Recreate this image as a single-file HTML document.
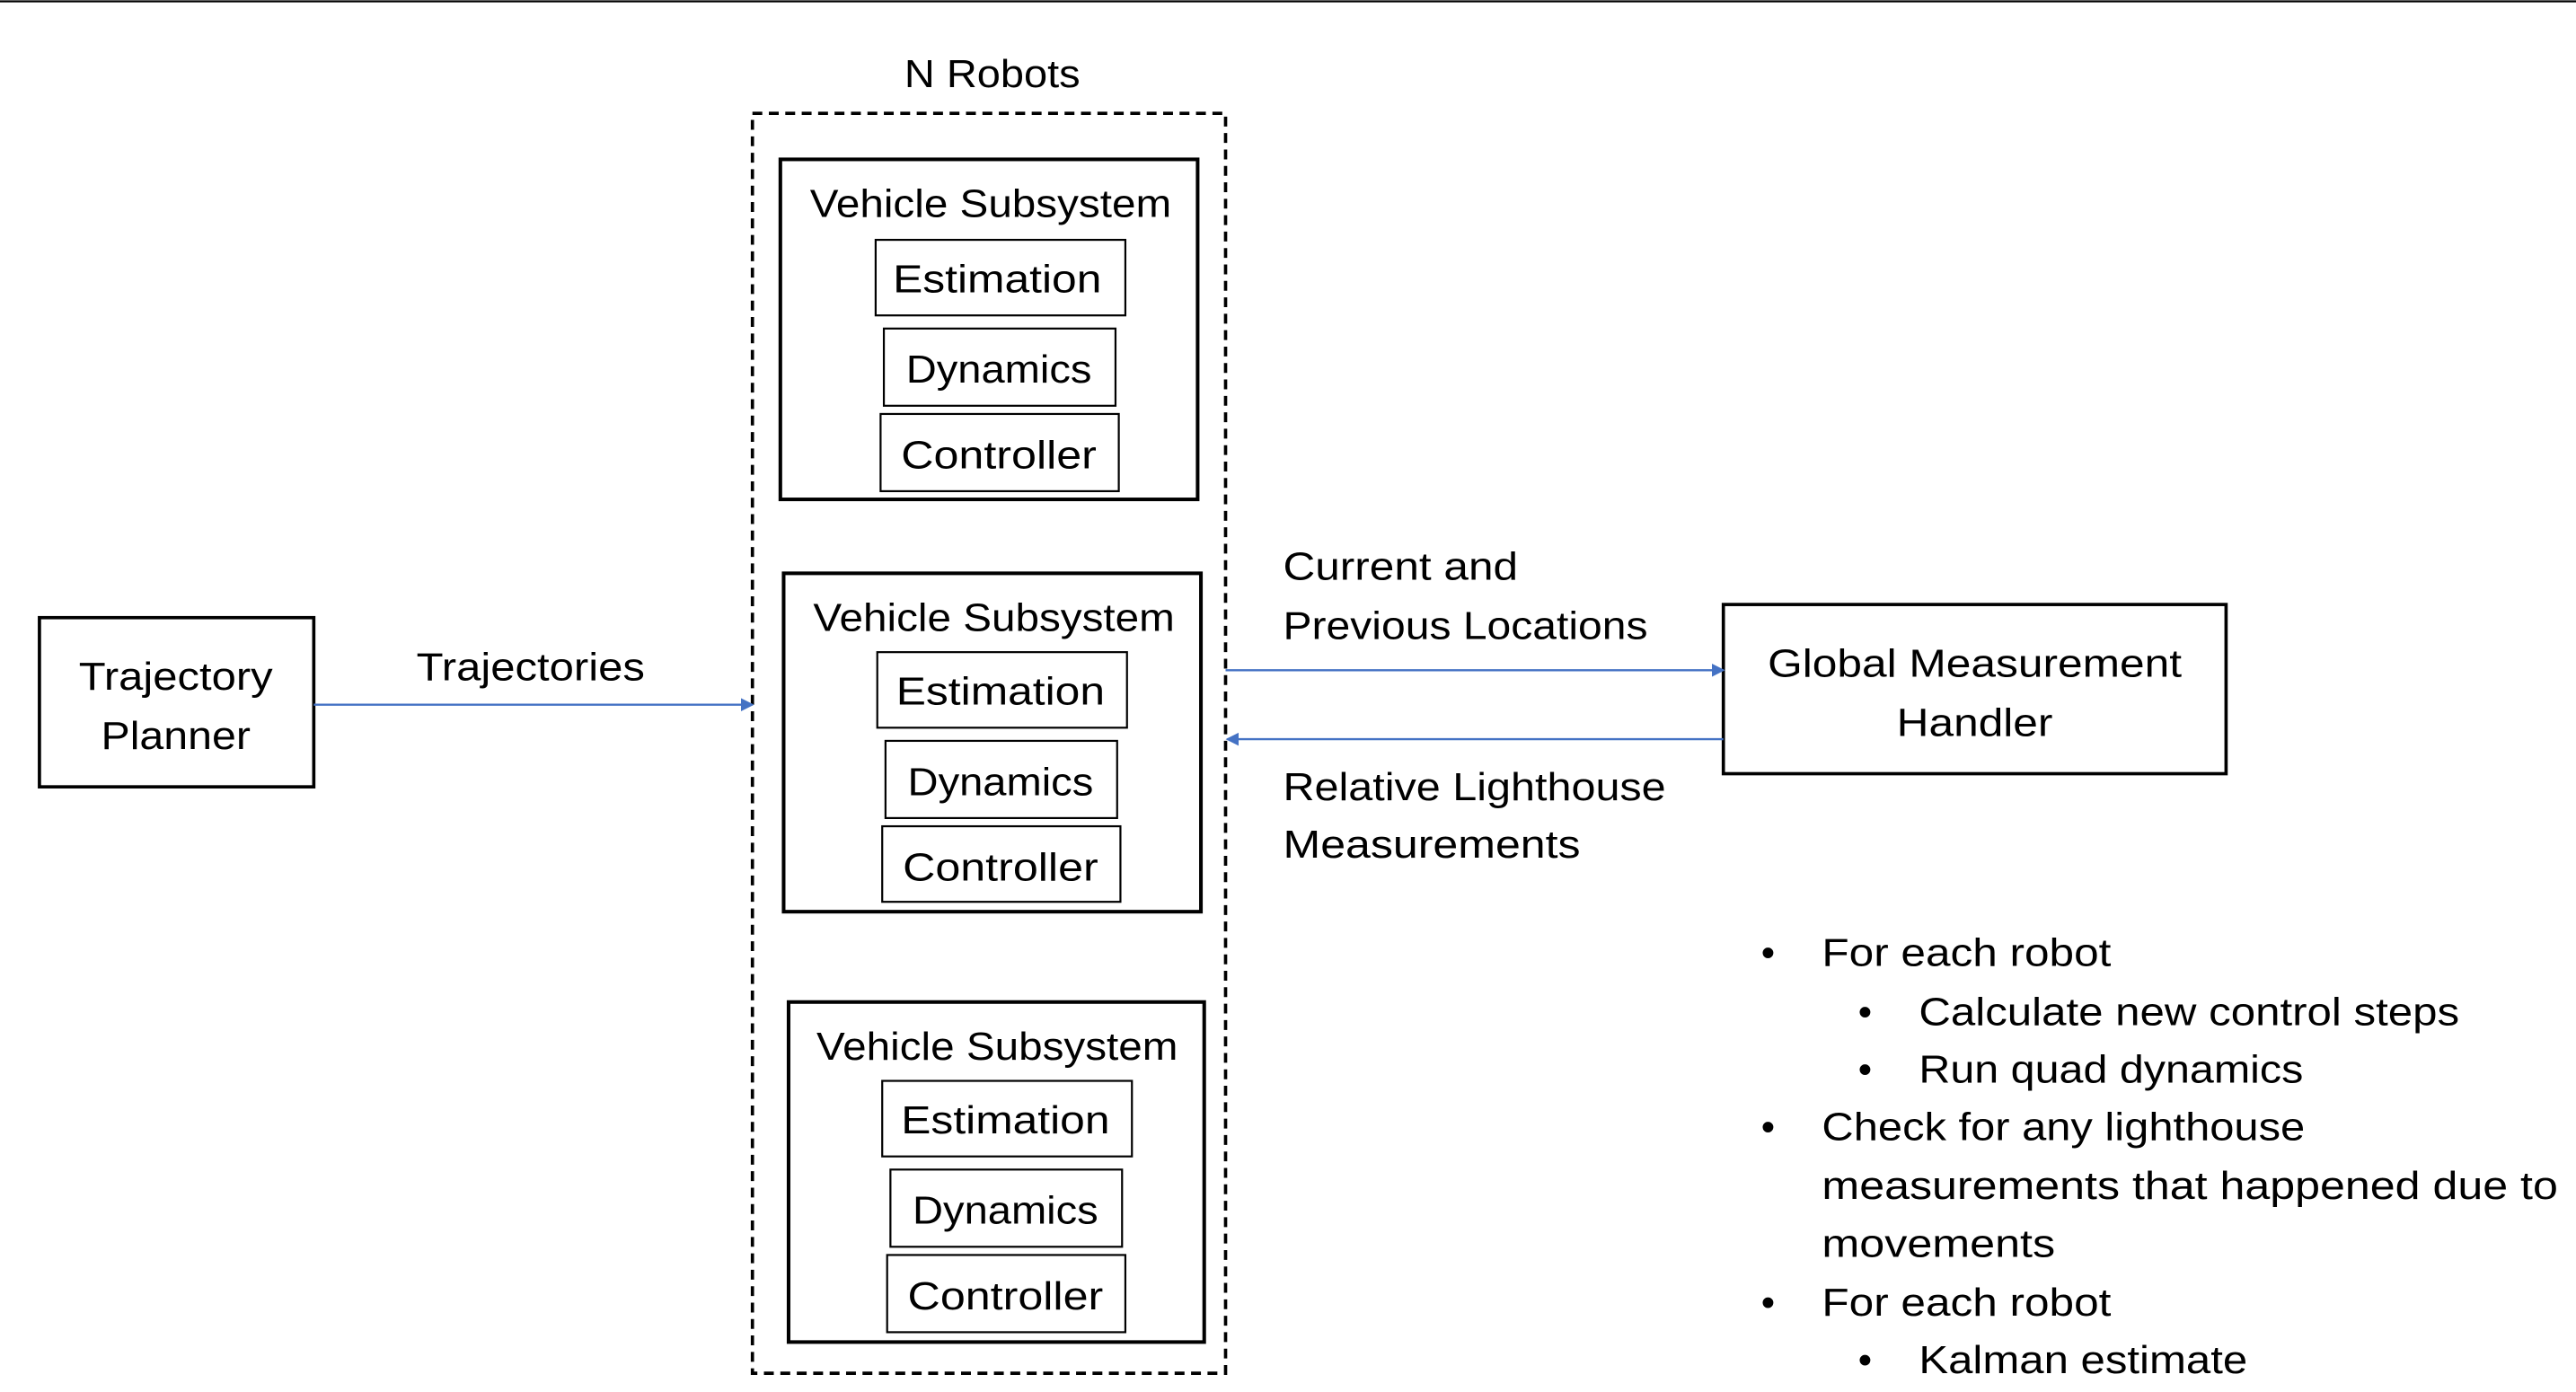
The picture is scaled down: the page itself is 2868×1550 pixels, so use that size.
<!DOCTYPE html>
<html><head><meta charset="utf-8"><style>
html,body{margin:0;padding:0;background:#fff;}
svg{display:block;}
text{font-family:"Liberation Sans",sans-serif;font-size:24px;fill:#000;}
</style></head><body>
<svg width="2868" height="1550" viewBox="0 0 1568 847.4" xmlns="http://www.w3.org/2000/svg">
<defs><marker id="a" markerWidth="8" markerHeight="8" refX="7" refY="4" orient="auto" markerUnits="userSpaceOnUse"><path d="M0,0 L8,4 L0,8 z" fill="#4472C4"/></marker></defs>
<line x1="0" y1="0.8" x2="1568" y2="0.8" stroke="#000" stroke-width="1.2"/>
<text x="604" y="53" text-anchor="middle" textLength="107" lengthAdjust="spacingAndGlyphs">N Robots</text>
<rect x="458" y="69" width="288" height="767" fill="none" stroke="#000" stroke-width="2" stroke-dasharray="6,4"/>
<g fill="none" stroke="#000">
<rect x="475" y="97" width="254" height="207" stroke-width="2.2"/>
<rect x="533" y="146" width="152" height="46" stroke-width="1.2"/>
<rect x="538" y="200" width="141" height="47" stroke-width="1.2"/>
<rect x="536" y="252" width="145" height="47" stroke-width="1.2"/>
<rect x="477" y="349" width="254" height="206" stroke-width="2.2"/>
<rect x="534" y="397" width="152" height="46" stroke-width="1.2"/>
<rect x="539" y="451" width="141" height="47" stroke-width="1.2"/>
<rect x="537" y="503" width="145" height="46" stroke-width="1.2"/>
<rect x="480" y="610" width="253" height="207" stroke-width="2.2"/>
<rect x="537" y="658" width="152" height="46" stroke-width="1.2"/>
<rect x="542" y="712" width="141" height="47" stroke-width="1.2"/>
<rect x="540" y="764" width="145" height="47" stroke-width="1.2"/>
<rect x="24" y="376" width="167" height="103" stroke-width="2"/>
<rect x="1049" y="368" width="306" height="103" stroke-width="2"/>
</g>
<g text-anchor="middle">
<text x="603" y="132" textLength="220" lengthAdjust="spacingAndGlyphs">Vehicle Subsystem</text>
<text x="607" y="178" textLength="127" lengthAdjust="spacingAndGlyphs">Estimation</text>
<text x="608" y="233" textLength="113" lengthAdjust="spacingAndGlyphs">Dynamics</text>
<text x="608" y="285" textLength="119" lengthAdjust="spacingAndGlyphs">Controller</text>
<text x="605" y="384" textLength="220" lengthAdjust="spacingAndGlyphs">Vehicle Subsystem</text>
<text x="609" y="429" textLength="127" lengthAdjust="spacingAndGlyphs">Estimation</text>
<text x="609" y="484" textLength="113" lengthAdjust="spacingAndGlyphs">Dynamics</text>
<text x="609" y="536" textLength="119" lengthAdjust="spacingAndGlyphs">Controller</text>
<text x="607" y="645" textLength="220" lengthAdjust="spacingAndGlyphs">Vehicle Subsystem</text>
<text x="612" y="690" textLength="127" lengthAdjust="spacingAndGlyphs">Estimation</text>
<text x="612" y="745" textLength="113" lengthAdjust="spacingAndGlyphs">Dynamics</text>
<text x="612" y="797" textLength="119" lengthAdjust="spacingAndGlyphs">Controller</text>
<text x="107" y="420" textLength="118" lengthAdjust="spacingAndGlyphs">Trajectory</text>
<text x="107" y="456" textLength="91" lengthAdjust="spacingAndGlyphs">Planner</text>
<text x="323" y="414" textLength="139" lengthAdjust="spacingAndGlyphs">Trajectories</text>
<text x="1202" y="412" textLength="252" lengthAdjust="spacingAndGlyphs">Global Measurement</text>
<text x="1202" y="448" textLength="95" lengthAdjust="spacingAndGlyphs">Handler</text>
</g>
<line x1="191" y1="429" x2="458" y2="429" stroke="#4472C4" stroke-width="1.3" marker-end="url(#a)"/>
<line x1="746" y1="408" x2="1049" y2="408" stroke="#4472C4" stroke-width="1.3" marker-end="url(#a)"/>
<line x1="1049" y1="450" x2="747" y2="450" stroke="#4472C4" stroke-width="1.3" marker-end="url(#a)"/>
<text x="781" y="353" textLength="143" lengthAdjust="spacingAndGlyphs">Current and</text>
<text x="781" y="389" textLength="222" lengthAdjust="spacingAndGlyphs">Previous Locations</text>
<text x="781" y="487" textLength="233" lengthAdjust="spacingAndGlyphs">Relative Lighthouse</text>
<text x="781" y="522" textLength="181" lengthAdjust="spacingAndGlyphs">Measurements</text>
<g>
<text x="1072" y="588">•</text><text x="1109" y="588" textLength="176" lengthAdjust="spacingAndGlyphs">For each robot</text>
<text x="1131" y="624">•</text><text x="1168" y="624" textLength="329" lengthAdjust="spacingAndGlyphs">Calculate new control steps</text>
<text x="1131" y="659">•</text><text x="1168" y="659" textLength="234" lengthAdjust="spacingAndGlyphs">Run quad dynamics</text>
<text x="1072" y="694">•</text><text x="1109" y="694" textLength="294" lengthAdjust="spacingAndGlyphs">Check for any lighthouse</text>
<text x="1109" y="730" textLength="448" lengthAdjust="spacingAndGlyphs">measurements that happened due to</text>
<text x="1109" y="765" textLength="142" lengthAdjust="spacingAndGlyphs">movements</text>
<text x="1072" y="801">•</text><text x="1109" y="801" textLength="176" lengthAdjust="spacingAndGlyphs">For each robot</text>
<text x="1131" y="836">•</text><text x="1168" y="836" textLength="200" lengthAdjust="spacingAndGlyphs">Kalman estimate</text>
</g>
</svg>
</body></html>
